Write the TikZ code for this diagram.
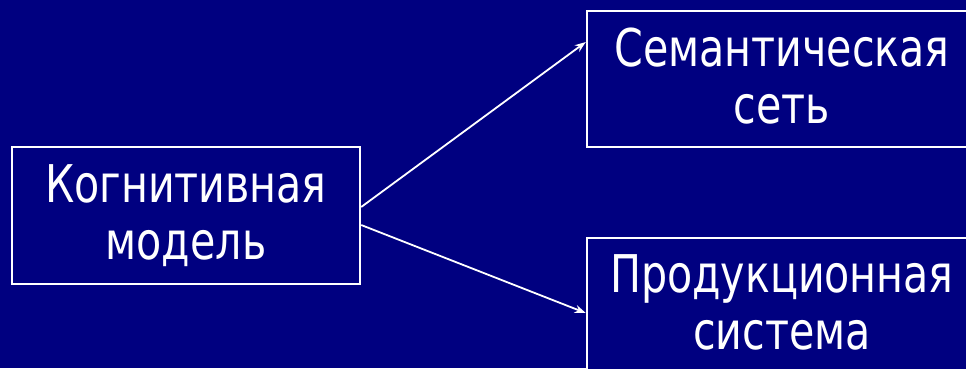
\documentclass[tikz,border=0pt]{standalone}
\usepackage{fontspec}
\setmainfont{DejaVu Sans Condensed}[FakeStretch=0.88]
\usetikzlibrary{arrows.meta}
\definecolor{bgnavy}{RGB}{0,0,128}
\newcommand\dstrut{\vphantom{Кд}}
\begin{document}
\begin{tikzpicture}[x=1pt,y=-1pt,
  boxstyle/.style={draw=white, line width=2.4pt, fill=bgnavy, text=white,
    align=center, inner sep=0pt, font=\fontsize{52}{57}\selectfont},
  arr/.style={draw=white, line width=1.8pt, -{Stealth[length=11pt,width=8pt]}}]
\fill[bgnavy] (0,0) rectangle (966,368);
\useasboundingbox (0,0) rectangle (966,368);
\clip (0,0) rectangle (966,368);
\node[boxstyle, minimum width=348pt, minimum height=137pt] (kog) at (186,215.5) {Когнитивная\\модель};
\node[boxstyle, minimum width=390pt, minimum height=136pt] (sem) at (782,79) {Семантическая\\сеть\dstrut};
\node[boxstyle, minimum width=390pt, minimum height=136pt] (prod) at (782,306) {Продукционная\\система\dstrut};
\draw[arr] ([yshift=8.5pt]kog.east) -- ([yshift=37pt]sem.west);
\draw[arr] ([yshift=-9.5pt]kog.east) -- ([yshift=-7pt]prod.west);
\end{tikzpicture}
\end{document}
